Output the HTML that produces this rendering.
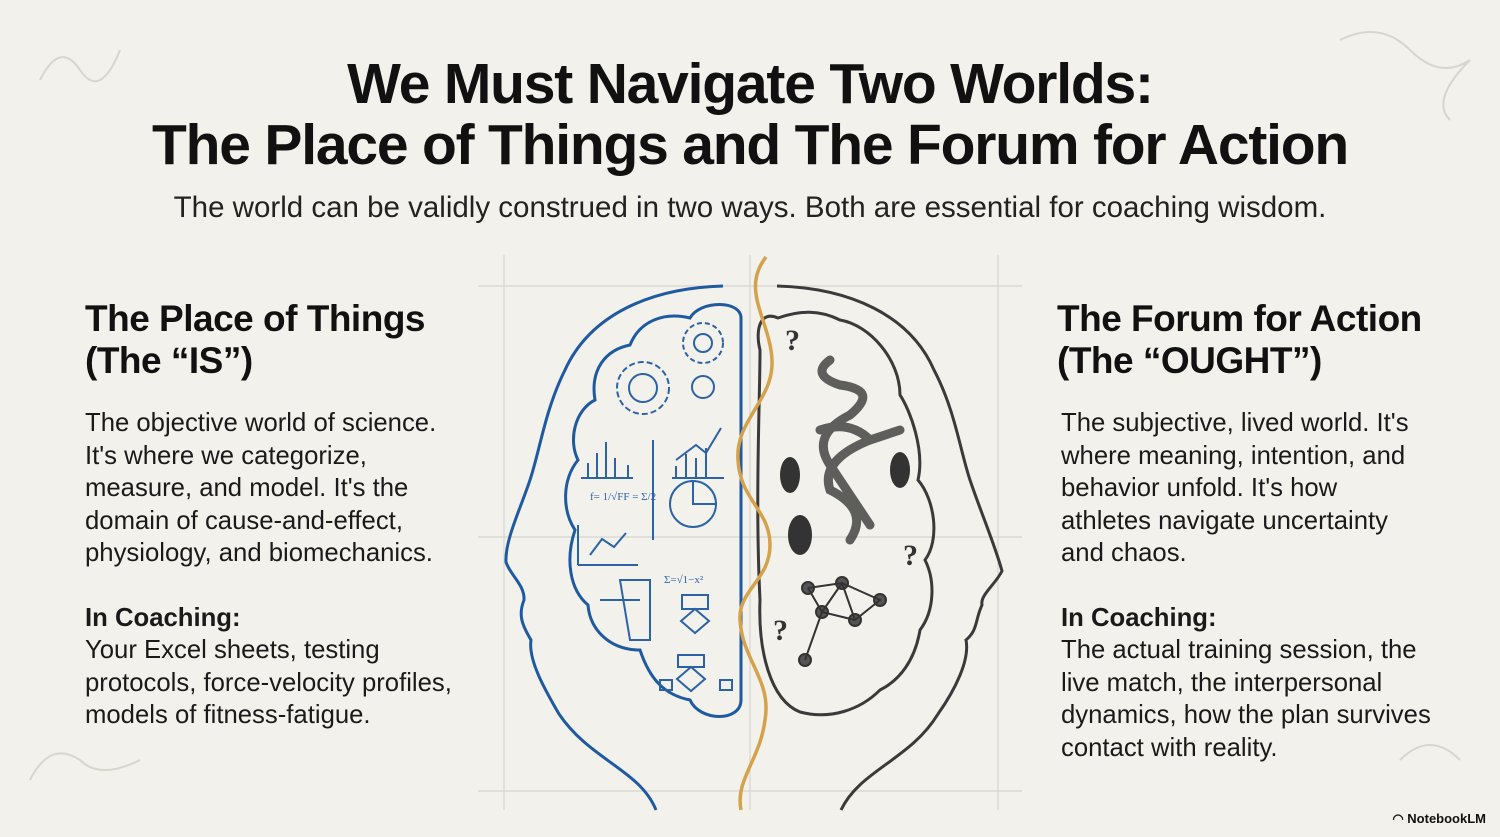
<!DOCTYPE html>
<html><head><meta charset="utf-8"><style>
html,body{margin:0;padding:0}
body{width:1500px;height:837px;background:#f2f1ec;position:relative;overflow:hidden;font-family:"Liberation Sans",sans-serif;color:#111}
.t{position:absolute;left:0;width:1500px;text-align:center;font-weight:bold;font-size:57px;letter-spacing:-1.2px;line-height:60px}
.sub{position:absolute;left:0;width:1500px;text-align:center;font-size:29.5px;top:191px;color:#222}
.h{position:absolute;font-weight:bold;font-size:37px;line-height:42px;letter-spacing:-0.5px}
.b{position:absolute;font-size:25.7px;line-height:32.5px;color:#1a1a1a}
.b b{font-weight:bold}
</style></head><body>
<div class="t" style="top:54px">We Must Navigate Two Worlds:</div>
<div class="t" style="top:115px">The Place of Things and The Forum for Action</div>
<div class="sub">The world can be validly construed in two ways. Both are essential for coaching wisdom.</div>

<div class="h" style="left:85px;top:298px">The Place of Things<br>(The “IS”)</div>
<div class="b" style="left:85px;top:407px">The objective world of science.<br>It's where we categorize,<br>measure, and model. It's the<br>domain of cause-and-effect,<br>physiology, and biomechanics.<br><div style="height:32px"></div><b>In Coaching:</b><br>Your Excel sheets, testing<br>protocols, force-velocity profiles,<br>models of fitness-fatigue.</div>

<div class="h" style="left:1057px;top:298px">The Forum for Action<br>(The “OUGHT”)</div>
<div class="b" style="left:1061px;top:407px">The subjective, lived world. It's<br>where meaning, intention, and<br>behavior unfold. It's how<br>athletes navigate uncertainty<br>and chaos.<br><div style="height:32px"></div><b>In Coaching:</b><br>The actual training session, the<br>live match, the interpersonal<br>dynamics, how the plan survives<br>contact with reality.</div>

<svg width="1500" height="837" style="position:absolute;left:0;top:0" fill="none">
<g stroke="#d6d5d0" stroke-width="1.2">
<line x1="478" y1="286" x2="1022" y2="286"/><line x1="478" y1="537" x2="1022" y2="537"/><line x1="478" y1="791" x2="1022" y2="791"/>
<line x1="504" y1="255" x2="504" y2="810"/><line x1="750" y1="255" x2="750" y2="810"/><line x1="998" y1="255" x2="998" y2="810"/>
</g>
<g stroke="#d8d6cc" stroke-width="2">
<path d="M40 80 q20-40 40-10 t40-20"/><path d="M1340 40 q40-20 70 10 t60 10 q-40 40-20 60"/>
<path d="M30 780 q20-40 50-20 q20 20 60 0"/><path d="M1400 760 q30-30 60 0"/>
</g>
<path d="M723 286 C650 288 590 315 565 370 C545 410 540 450 530 480 C520 510 505 540 506 562 C510 575 525 585 524 600 C518 615 522 625 531 640 C528 660 545 690 559 714 C590 760 640 770 656 810" stroke="#1f5aa0" stroke-width="3"/>
<path d="M741 318 C741 300 700 300 690 318 C665 312 640 320 630 345 C605 350 590 370 595 400 C575 410 568 440 578 460 C562 480 562 510 575 530 C565 560 570 590 588 605 C590 630 610 650 640 650 C650 680 665 695 690 700 C700 722 741 722 741 700 Z" stroke="#1f5aa0" stroke-width="3"/>
<g stroke="#2c63a6" stroke-width="2">
<circle cx="643" cy="388" r="26" stroke-dasharray="6 3"/><circle cx="643" cy="388" r="14"/><circle cx="703" cy="343" r="20" stroke-dasharray="5 3"/><circle cx="703" cy="343" r="9"/><circle cx="703" cy="387" r="11"/>
<path d="M581 478h52M588 478v-15M597 478v-25M606 478v-36M615 478v-20M628 478v-13"/>
<path d="M672 478h52M676 478v-12M686 478v-24M696 478v-20M706 478v-30M676 460l20-15 10 8 15-25"/>
<path d="M653 440v100"/><path d="M578 565h60M578 565v-40M590 555l12-16 12 8 12-14"/>
<circle cx="693" cy="504" r="23"/><path d="M693 481v23h23"/>
<path d="M620 580h30v60h-20zM600 600h40"/><path d="M682 595h26v14h-26zM695 609l-14 12 14 12 14-12zM678 655h26v12h-26zM660 680h12v10h-12zM720 680h12v10h-12zM691 667l-14 12 14 12 14-12z"/>
</g>
<g fill="#2c63a6" font-size="11" font-family="Liberation Serif,serif" stroke="none"><text x="590" y="500">f= 1/√FF = Σ/2</text><text x="664" y="583">Σ=√1−x²</text></g>
<path d="M777 286 C850 288 910 315 934 370 C955 410 960 450 970 480 C980 510 995 545 1002 571 C995 585 980 595 982 605 C975 620 978 630 966 640 C970 660 955 690 938 714 C910 760 860 770 841 810" stroke="#3a3a3a" stroke-width="3"/>
<path d="M778 318 C760 310 755 330 760 350 C760 400 755 500 760 600 C758 650 770 700 800 712 C830 720 860 710 880 690 C900 680 915 660 920 630 C935 610 935 580 925 560 C940 540 935 500 918 480 C925 450 910 410 900 395 C900 360 870 325 840 320 C820 310 800 310 778 318 Z" stroke="#3a3a3a" stroke-width="3"/>
<g stroke="#3a3a3a" stroke-width="9" stroke-linecap="round" opacity="0.8">
<path d="M830 360 q-20 15 10 25 q40 5 10 30 q-40 20-20 50 q20 30 40 60"/>
<path d="M820 430 q30-10 50 10 q-50 20-40 50 q40 20 20 50"/><path d="M870 440 l30-10"/>
</g>
<g stroke="#333" stroke-width="2">
<circle cx="808" cy="588" r="6" fill="#555"/><circle cx="842" cy="583" r="6" fill="#555"/><circle cx="880" cy="600" r="6" fill="#555"/><circle cx="822" cy="612" r="6" fill="#555"/><circle cx="855" cy="620" r="6" fill="#555"/><circle cx="805" cy="660" r="6" fill="#555"/>
<path d="M808 588L842 583L880 600L855 620L822 612L808 588M842 583L822 612M842 583L855 620M822 612L805 660"/>
</g>
<g fill="#333" font-size="30" font-weight="bold" font-family="Liberation Serif,serif"><text x="785" y="350">?</text><text x="903" y="565">?</text><text x="773" y="640">?</text></g>
<g fill="#333"><ellipse cx="790" cy="475" rx="10" ry="18"/><ellipse cx="900" cy="470" rx="10" ry="18"/><ellipse cx="800" cy="535" rx="12" ry="20"/></g>
<path d="M766 257 C740 290 770 320 772 360 C774 400 735 420 738 460 C740 500 770 510 770 545 C770 580 738 590 740 620 C742 660 772 680 765 720 C760 760 735 780 741 810" stroke="#d4a24a" stroke-width="3.5"/>
</svg>
<div style="position:absolute;right:14px;bottom:10px;font-size:13px;font-weight:bold">◠ NotebookLM</div>
</body></html>
